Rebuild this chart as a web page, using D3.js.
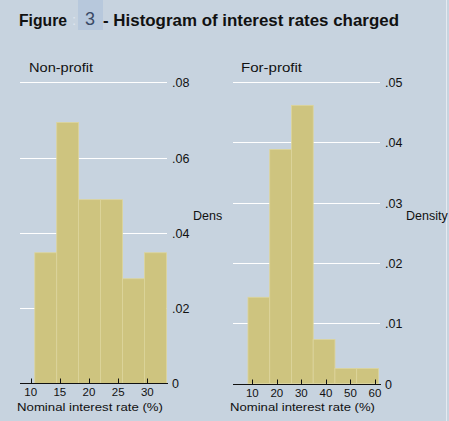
<!DOCTYPE html>
<html><head><meta charset="utf-8">
<script src="https://cdn.jsdelivr.net/npm/d3@7"></script>
<style>
html,body{margin:0;padding:0;background:#c7d3df;}
svg{display:block;font-family:"Liberation Sans",Arial,sans-serif;}
</style></head>
<body>
<svg id="chart" width="449" height="421"></svg>
<script>
// ---- data ----
const npEdges   = [10.7, 14.46, 18.22, 21.99, 25.75, 29.52, 33.28];
const npDensity = [0.0347, 0.0693, 0.0488, 0.0488, 0.0278, 0.0347];
const fpEdges   = [8.24, 17.1, 25.96, 34.82, 43.68, 52.54, 61.4];
const fpDensity = [0.0143, 0.0388, 0.0461, 0.0073, 0.0025, 0.0025];
const npXTicks = [10, 15, 20, 25, 30];
const fpXTicks = [10, 20, 30, 40, 50, 60];
const npYTicks = [0, 0.02, 0.04, 0.06, 0.08];
const fpYTicks = [0, 0.01, 0.02, 0.03, 0.04, 0.05];
const panelTitles = ["Non-profit", "For-profit"];
const xTitle = "Nominal interest rate (%)";
const yTitle = "Density";

const svg = d3.select("#chart");
const BG = "#c7d3df", BAR = "#cec47f", BARLINE = "#ddd59c", INK = "#111";

svg.append("rect").attr("width",449).attr("height",421).attr("fill",BG);
svg.append("rect").attr("x",446).attr("y",0).attr("width",1).attr("height",421).attr("fill","#e4eaf0");

// ---- title ----
const t = svg.append("g");
t.append("rect").attr("x",78).attr("y",0).attr("width",25).attr("height",30).attr("fill","#b7c8dc");
t.append("text").attr("x",19).attr("y",26).attr("font-size",16.5).attr("font-weight","bold")
  .attr("fill",INK).attr("textLength",48).attr("lengthAdjust","spacingAndGlyphs").text("Figure");
t.append("text").attr("x",72).attr("y",25).attr("font-size",15).attr("fill","#dde5ee").text(":");
t.append("text").attr("x",85).attr("y",25).attr("font-size",18).attr("fill","#3a4a66").text("3");
t.append("text").attr("x",103).attr("y",26).attr("font-size",16.5).attr("font-weight","bold")
  .attr("fill",INK).attr("textLength",296).attr("lengthAdjust","spacingAndGlyphs")
  .text("- Histogram of interest rates charged");

function panel(cfg){
  const g = svg.append("g");
  const x = d3.scaleLinear().domain(cfg.xDom).range(cfg.xRange);
  const y = d3.scaleLinear().domain(cfg.yDom).range(cfg.yRange);

  // panel title
  g.append("text").attr("x",cfg.titleX).attr("y",72).attr("font-size",13.5).attr("fill",INK)
    .attr("textLength",cfg.titleW).attr("lengthAdjust","spacingAndGlyphs").text(cfg.title);

  // gridlines
  g.selectAll("line.grid").data(cfg.yTicks.filter(d=>d>0)).join("line")
    .attr("x1",cfg.gx0).attr("x2",cfg.gx1)
    .attr("y1",d=>Math.round(y(d))+0.5).attr("y2",d=>Math.round(y(d))+0.5)
    .attr("stroke","#ffffff").attr("stroke-width",1);

  // bars
  const bins = cfg.density.map((d,i)=>({x0:cfg.edges[i], x1:cfg.edges[i+1], d}));
  g.selectAll("rect.bar").data(bins).join("rect")
    .attr("x",b=>x(b.x0)).attr("width",b=>x(b.x1)-x(b.x0))
    .attr("y",b=>y(b.d)).attr("height",b=>y(0)-y(b.d))
    .attr("fill",BAR).attr("stroke",BARLINE).attr("stroke-width",0.8);

  // x axis
  const ax = g.append("g").attr("transform",`translate(0,${Math.round(y(0))+0.5})`);
  ax.append("line").attr("x1",cfg.gx0).attr("x2",cfg.gx1+1).attr("stroke",INK).attr("stroke-width",1);
  ax.selectAll("line.tk").data(cfg.xTicks).join("line")
    .attr("x1",d=>Math.round(x(d))+0.5).attr("x2",d=>Math.round(x(d))+0.5)
    .attr("y1",-5).attr("y2",0).attr("stroke",INK);
  ax.selectAll("text.tl").data(cfg.xTicks).join("text")
    .attr("x",d=>x(d)).attr("y",12.5).attr("text-anchor","middle")
    .attr("font-size",11.5).attr("fill",INK).text(d=>d);
  g.append("text").attr("x",cfg.xtX).attr("y",411).attr("font-size",11.5).attr("fill",INK)
    .attr("textLength",cfg.xtW).attr("lengthAdjust","spacingAndGlyphs").text(xTitle);

  // y tick labels (right side)
  const fmt = d => d===0 ? "0" : d3.format(".2f")(d).replace(/^0/,"");
  g.selectAll("text.yl").data(cfg.yTicks).join("text")
    .attr("x",cfg.ylX).attr("y",d=>y(d)+5).attr("font-size",12.5).attr("fill",INK)
    .text(fmt);

  // y title
  g.append("text").attr("x",cfg.ytX).attr("y",220).attr("font-size",12.5).attr("fill",INK)
    .text(cfg.yTitleText);
}

panel({
  title: panelTitles[0], titleX: 29, titleW: 64,
  edges: npEdges, density: npDensity, xTicks: npXTicks, yTicks: npYTicks,
  xDom:[10,30], xRange:[30.7,147.3], yDom:[0,0.08], yRange:[383.4,82.2],
  gx0:20, gx1:167, ylX:172, ytX:193, yTitleText: yTitle.slice(0,4),
  xtX:17, xtW:146
});
panel({
  title: panelTitles[1], titleX: 241, titleW: 61,
  edges: fpEdges, density: fpDensity, xTicks: fpXTicks, yTicks: fpYTicks,
  xDom:[10,60], xRange:[252.3,375], yDom:[0,0.05], yRange:[383.6,81.8],
  gx0:233, gx1:380, ylX:385, ytX:406, yTitleText: yTitle,
  xtX:230, xtW:145
});
</script>
</body></html>
